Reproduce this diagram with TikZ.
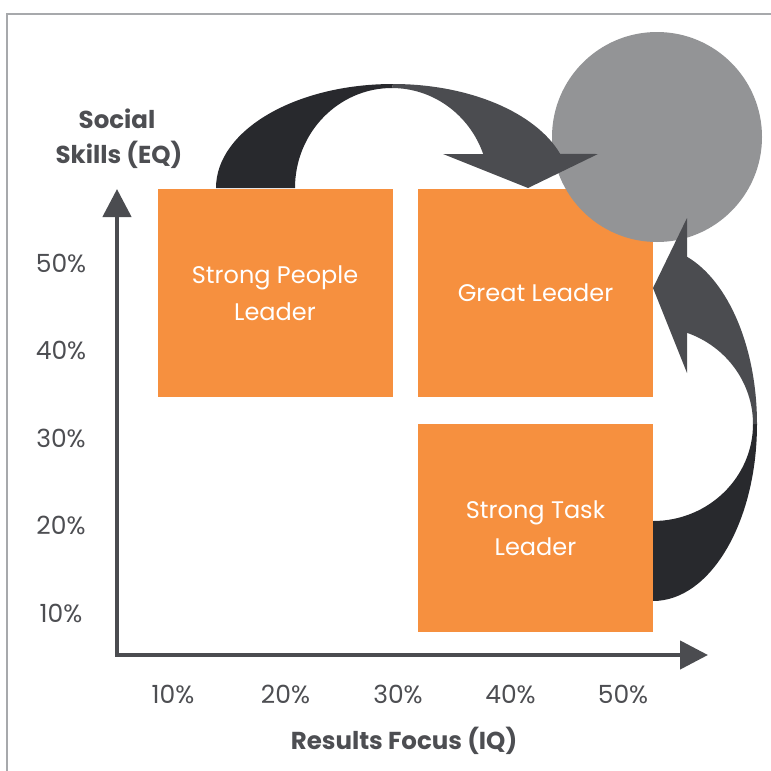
\documentclass[tikz,border=0pt]{standalone}
\usepackage{fontspec}
\setmainfont{Poppins}
\usetikzlibrary{arrows.meta}
\definecolor{orangebox}{HTML}{F6903F}
\definecolor{darkband}{HTML}{28292D}
\definecolor{lightband}{HTML}{4B4C50}
\definecolor{circgray}{HTML}{939496}
\definecolor{axisgray}{HTML}{4B4C50}
\definecolor{textgray}{HTML}{4D4E52}
\definecolor{framegray}{HTML}{A7A9AC}
\begin{document}
\begin{tikzpicture}[x=1pt,y=-1pt,
  quad/.style={fill=orangebox, text=white, minimum width=235pt, minimum height=208pt, inner sep=0pt, align=center, font=\fontsize{24}{37}\selectfont},
  tick/.style={text=textgray, anchor=base, inner sep=0pt, font=\fontsize{25}{28}\selectfont},
  axislabel/.style={text=textgray, inner sep=0pt, align=center, anchor=base, font=\fontsize{24.5}{35}\selectfont\bfseries},
  axisline/.style={draw=axisgray, line width=4.5pt, line join=miter, {Triangle[width=28pt,length=28pt]}-{Triangle[width=28pt,length=28pt]}},
  frameline/.style={draw=framegray, line width=2pt},
  goalcircle/.style={circle, fill=circgray, minimum size=210pt, inner sep=0pt}
]
\useasboundingbox (0,0) rectangle (771,771);
% frame
\coordinate (fbl) at (7,772);
\coordinate (ftl) at (7,13.5);
\coordinate (ftr) at (772,13.5);
\draw[frameline] (fbl) -- (ftl) -- (ftr);
% axes
\coordinate (origin) at (117,655);
\coordinate (ytip) at (117,189);
\coordinate (xtip) at (708,655);
\draw[axisline] (ytip) -- (origin) -- (xtip);
% quadrants
\node[quad] (people) at (275,293) {Strong People\\Leader};
\node[quad] (great) at (535.5,293) {Great Leader};
\node[quad] (task) at (535.5,528) {Strong Task\\Leader};
% goal circle
\node[goalcircle] (goal) at (657,137) {};
% top arrow
\fill[darkband] (216,188) arc[start angle=180, end angle=270, x radius=177, y radius=104]
  -- (392,88) arc[start angle=270, end angle=180, x radius=97, y radius=100] -- cycle;
\fill[lightband] (393,84) arc[start angle=270, end angle=340.9, x radius=177, y radius=104]
  -- (598,154) -- (528,188) -- (443,154) -- (483.2,154)
  arc[start angle=340.1, end angle=270, x radius=97, y radius=100] -- cycle;
% right arrow
\fill[darkband] (653,601) arc[start angle=90, end angle=0, x radius=104, y radius=177]
  -- (753,424) arc[start angle=0, end angle=90, x radius=100, y radius=97] -- cycle;
\fill[lightband] (757,424) arc[start angle=0, end angle=-70.9, x radius=104, y radius=177]
  -- (687,218) -- (653,288) -- (687,373) -- (687,332.8)
  arc[start angle=-70.12, end angle=0, x radius=100, y radius=97] -- cycle;
% y ticks
\node[tick] (y50) at (61,272) {50\%};
\node[tick] (y40) at (61,359.5) {40\%};
\node[tick] (y30) at (61,447) {30\%};
\node[tick] (y20) at (61,534.5) {20\%};
\node[tick] (y10) at (61,622) {10\%};
% x ticks
\node[tick] (x10) at (173,703) {10\%};
\node[tick] (x20) at (285.5,703) {20\%};
\node[tick] (x30) at (398,703) {30\%};
\node[tick] (x40) at (510.5,703) {40\%};
\node[tick] (x50) at (623,703) {50\%};
% axis labels
\node[axislabel] (ylab1) at (117,128) {Social};
\node[axislabel] (ylab2) at (119,163) {Skills (EQ)};
\node[axislabel] (xlab) at (404,749) {Results Focus (IQ)};
\end{tikzpicture}
\end{document}
